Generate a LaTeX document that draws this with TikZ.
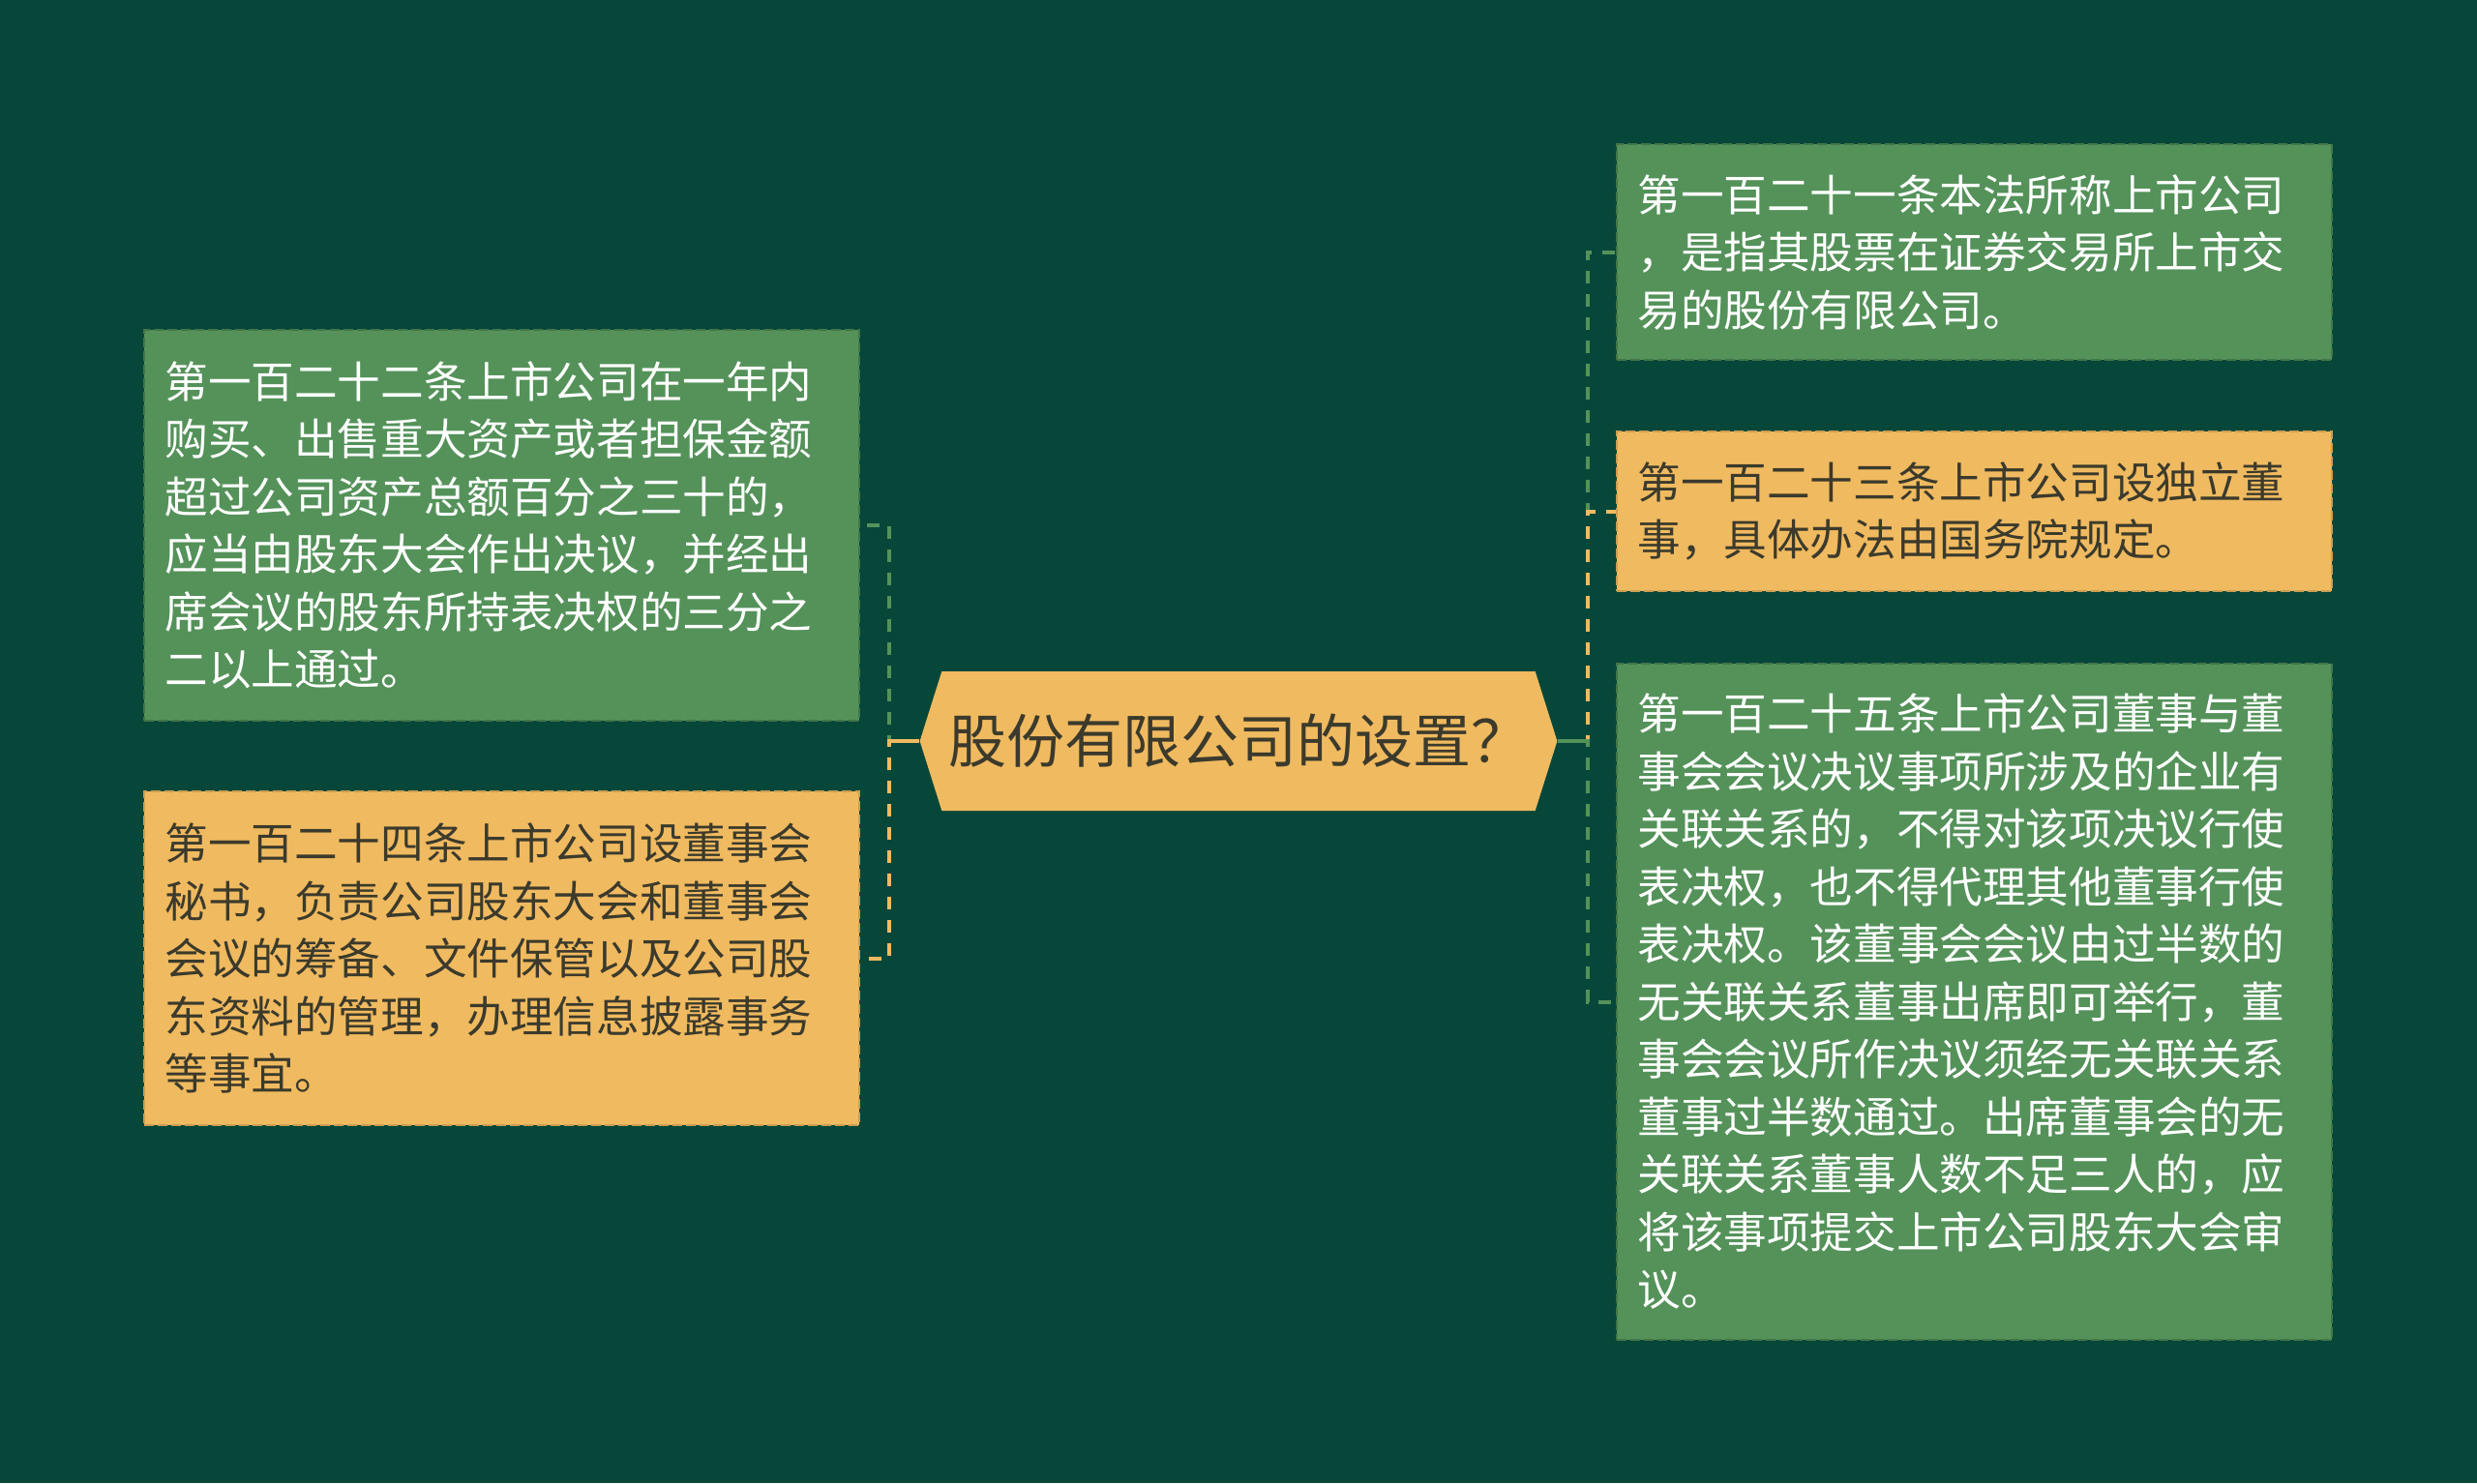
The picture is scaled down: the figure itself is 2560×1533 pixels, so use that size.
\documentclass[tikz,border=0pt]{standalone}
\usepackage{fontspec}
\newfontfamily\cjk{Noto Sans CJK SC}
\usetikzlibrary{shapes.symbols}
\definecolor{bgdark}{HTML}{07473A}
\definecolor{leafgreen}{HTML}{54925A}
\definecolor{leaforange}{HTML}{F0BA60}
\definecolor{inkdark}{HTML}{3B3A2C}
\tikzset{
  leaf/.style={rectangle, align=left, text width=348.1pt, inner xsep=10.7pt, inner ysep=0pt,
    font=\cjk\fontsize{22.3pt}{29.75pt}\selectfont, dash pattern=on 5pt off 2pt, line width=0.8pt},
  greenleaf/.style={leaf, fill=leafgreen, draw=leafgreen!80!black, text=white},
  orangeleaf/.style={leaf, fill=leaforange, draw=leaforange!85!black, text=inkdark},
  hub/.style={signal, signal to=east and west, signal pointer angle=145, fill=leaforange,
    text=inkdark, font=\cjk\fontsize{30pt}{35pt}\selectfont, minimum width=328pt, minimum height=72pt},
  link/.style={line width=2pt, dash pattern=on 6.5pt off 5.5pt},
  stub/.style={line width=2pt},
}
\begin{document}
\begin{tikzpicture}[x=0.5pt,y=-0.5pt]
      \fill[bgdark] (0,0) rectangle (2560,1533);
      \useasboundingbox (0,0) rectangle (2560,1533);
      % centre
      \node[hub] (hub) at (1280,766) {股份有限公司的设置？};
      % left leaves
      \node[greenleaf, minimum height=202pt] (lb1) at (518.5,543) {第一百二十二条上市公司在一年内\\购买、出售重大资产或者担保金额\\超过公司资产总额百分之三十的，\\应当由股东大会作出决议，并经出\\席会议的股东所持表决权的三分之\\二以上通过。};
      \node[orangeleaf, minimum height=172.5pt] (lb2) at (518.5,990.5) {第一百二十四条上市公司设董事会\\秘书，负责公司股东大会和董事会\\会议的筹备、文件保管以及公司股\\东资料的管理，办理信息披露事务\\等事宜。};
      % right leaves
      \node[greenleaf, minimum height=111.5pt] (rb1) at (2040.5,260.5) {第一百二十一条本法所称上市公司\\，是指其股票在证券交易所上市交\\易的股份有限公司。};
      \node[orangeleaf, minimum height=82.5pt] (rb2) at (2040.5,528.5) {第一百二十三条上市公司设独立董\\事，具体办法由国务院规定。};
      \node[greenleaf, minimum height=349.5pt] (rb3) at (2040.5,1035.5) {第一百二十五条上市公司董事与董\\事会会议决议事项所涉及的企业有\\关联关系的，不得对该项决议行使\\表决权，也不得代理其他董事行使\\表决权。该董事会会议由过半数的\\无关联关系董事出席即可举行，董\\事会会议所作决议须经无关联关系\\董事过半数通过。出席董事会的无\\关联关系董事人数不足三人的，应\\将该事项提交上市公司股东大会审\\议。};
      %
      % links
      \draw[link, leafgreen] (hub.west) -- ++(-31,0) |- (lb1.east);
      \draw[link, leaforange] (hub.west) -- ++(-31,0) |- (lb2.east);
      \draw[stub, leaforange] (hub.west) -- ++(-31,0);
      \draw[link, leafgreen] (hub.east) -- ++(31,0) |- (rb1.west);
      \draw[link, leaforange] (hub.east) -- ++(31,0) |- (rb2.west);
      \draw[link, leafgreen] (hub.east) -- ++(31,0) |- (rb3.west);
      \draw[stub, leafgreen] (hub.east) -- ++(31,0);
\end{tikzpicture}
\end{document}
